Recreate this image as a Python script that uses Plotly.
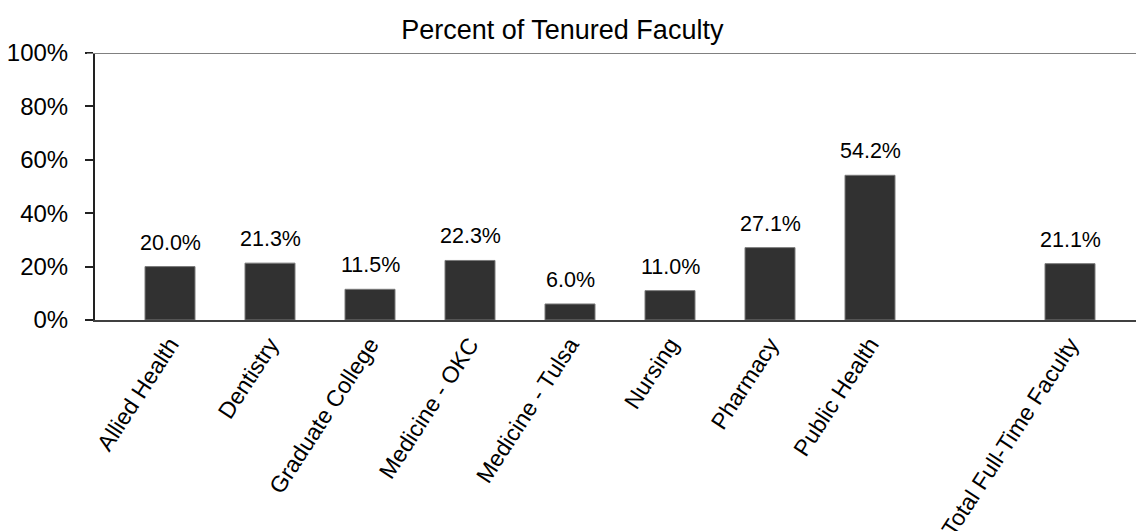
import plotly.graph_objects as go

# Tenure rate by college; the blank category leaves a gap before the campus total
categories = [
    "Allied Health", "Dentistry", "Graduate College", "Medicine - OKC",
    "Medicine - Tulsa", "Nursing", "Pharmacy", "Public Health",
    " ", "Total Full-Time Faculty",
]
tenured_pct = [20.0, 21.3, 11.5, 22.3, 6.0, 11.0, 27.1, 54.2, None, 21.1]

y_ticks = [0, 20, 40, 60, 80, 100]
y_tick_labels = ["0%", "20%", "40%", "60%", "80%", "100%"]

FONT = "Liberation Sans, Arial, sans-serif"
BAR = "#313131"

fig = go.Figure(
    go.Bar(
        x=categories,
        y=tenured_pct,
        width=0.5,
        marker=dict(color=BAR, line=dict(color="#7a7a7a", width=1)),
        hoverinfo="x+y",
    )
)

# value labels above each bar
for cat, v in zip(categories, tenured_pct):
    if v is None:
        continue
    fig.add_annotation(
        x=cat, y=v, text=f"{v:.1f}%", showarrow=False,
        yanchor="bottom", yshift=10,
        font=dict(family=FONT, size=21.5, color="#000"),
    )

# top border at 100%
fig.add_shape(
    type="line", xref="paper", yref="y",
    x0=-8 / 1041, x1=1, y0=100, y1=100,
    line=dict(color="#808080", width=2), layer="above",
)

fig.update_layout(
    width=1136, height=531,
    margin=dict(l=95, r=0, t=52.5, b=211, pad=0, autoexpand=False),
    paper_bgcolor="white", plot_bgcolor="white",
    showlegend=False,
    font=dict(family=FONT, color="#000"),
    title=dict(
        text="Percent of Tenured Faculty",
        x=0.495, xref="container", xanchor="center",
        y=1 - 30 / 531, yref="container", yanchor="middle",
        font=dict(family=FONT, size=27, color="#000"),
    ),
    xaxis=dict(
        type="category",
        categoryorder="array", categoryarray=categories,
        range=[-0.75, 9.66],
        automargin=False,
        showgrid=False, zeroline=False,
        showline=True, linecolor="#404040", linewidth=2,
        ticks="", tickangle=-57,
        tickfont=dict(family=FONT, size=23, color="#000"),
    ),
    yaxis=dict(
        range=[0, 100],
        automargin=False,
        tickvals=y_ticks, ticktext=y_tick_labels,
        showgrid=False, zeroline=False,
        showline=True, linecolor="#222222", linewidth=2,
        ticks="outside", ticklen=8, tickwidth=2, tickcolor="#222222",
        ticklabelstandoff=12,
        tickfont=dict(family=FONT, size=24, color="#000"),
    ),
)

fig.write_html("out.html")
